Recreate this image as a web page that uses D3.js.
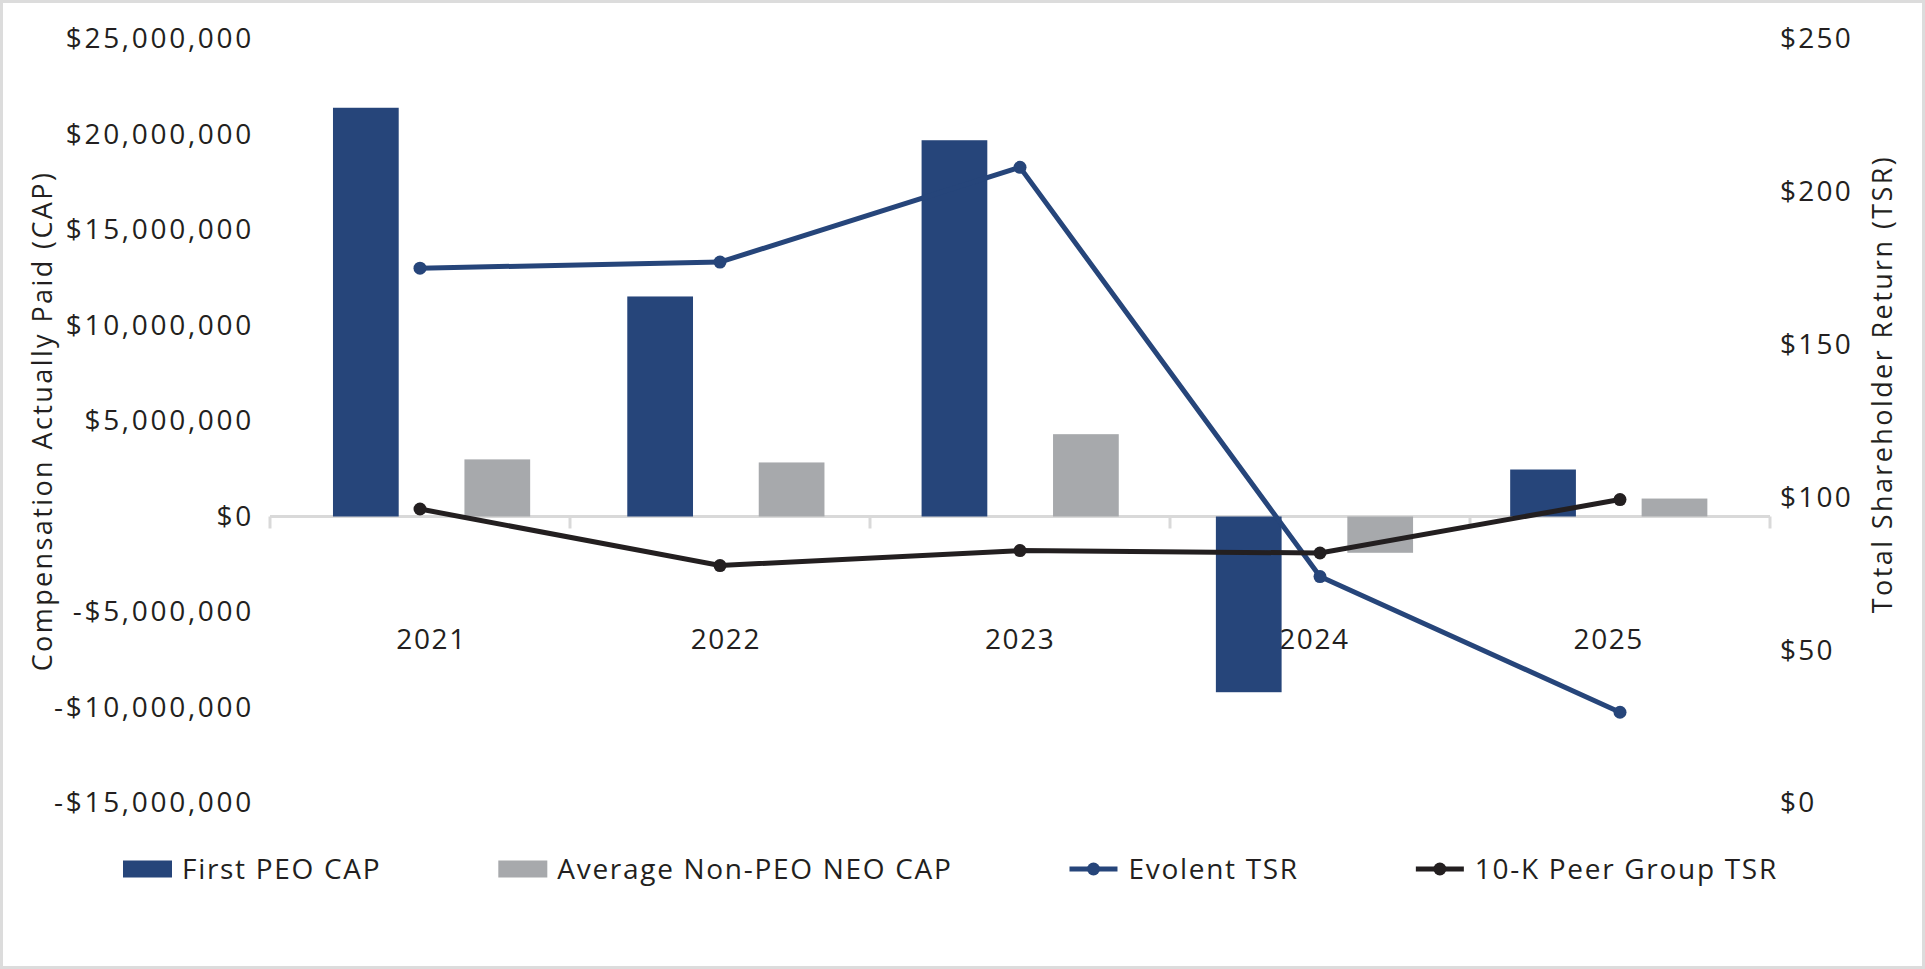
<!DOCTYPE html>
<html>
<head>
<meta charset="utf-8">
<script src="https://cdn.jsdelivr.net/npm/d3@7"></script>
<style>
  body { margin: 0; background: #fff; overflow: hidden; }
  text { font-family: "Open Sans", sans-serif; fill: #231f20; }
</style>
</head>
<body>
<svg width="1925" height="969"></svg>
<script>
const categories = ["2021", "2022", "2023", "2024", "2025"];
const firstPeoCap = [21400000, 11520000, 19700000, -9200000, 2460000];
const avgNeoCap = [2990000, 2830000, 4310000, -1900000, 940000];
const evolentTsr = [175.0, 177.0, 208.0, 74.1, 29.7];
const peerTsr = [96.2, 77.7, 82.6, 81.8, 99.3];
const capTicks = [-15000000, -10000000, -5000000, 0, 5000000, 10000000, 15000000, 20000000, 25000000];
const tsrTicks = [0, 50, 100, 150, 200, 250];

const blue = "#26457a";
const gray = "#a7a9ac";
const dark = "#231f20";
const rule = "#d9d9d9";

const svg = d3.select("svg");
const width = +svg.attr("width");
const height = +svg.attr("height");

// frame
svg.append("rect")
  .attr("x", 1.5).attr("y", 1.5)
  .attr("width", width - 3).attr("height", height - 3)
  .attr("fill", "none")
  .attr("stroke", "#dcdcdc")
  .attr("stroke-width", 3);

const plot = { left: 270, right: 1770, top: 39, bottom: 803 };

// category slots (separators + line points)
const x = d3.scaleBand()
  .domain(categories)
  .range([plot.left, plot.right]);

// bar groups sit on a slightly tighter step than the slots
const xBar = d3.scaleBand()
  .domain(categories)
  .range([plot.left, plot.left + 1471.5]);

const bars = d3.scaleBand()
  .domain(["peo", "neo"])
  .range([xBar.bandwidth() * 0.214, xBar.bandwidth() * 0.884])
  .paddingInner(0.5);

const yCap = d3.scaleLinear()
  .domain([-15000000, 25000000])
  .range([plot.bottom, plot.top]);

const yTsr = d3.scaleLinear()
  .domain([0, 250])
  .range([plot.bottom, plot.top]);

const fmtMoney = d => (d < 0 ? "-" : "") + "$" + d3.format(",")(Math.abs(d));

// left axis
const leftAxis = svg.append("g")
  .attr("transform", `translate(${plot.left},0)`)
  .call(d3.axisLeft(yCap).tickValues(capTicks).tickFormat(fmtMoney).tickSize(0).tickPadding(16));
leftAxis.select(".domain").remove();
leftAxis.selectAll("text")
  .style("font-family", "'Open Sans', sans-serif")
  .style("font-size", "28px")
  .style("letter-spacing", "2.7px")
  .attr("fill", dark);

// right axis
const rightAxis = svg.append("g")
  .attr("transform", `translate(${plot.right},0)`)
  .call(d3.axisRight(yTsr).tickValues(tsrTicks).tickFormat(d => "$" + d).tickSize(0).tickPadding(10));
rightAxis.select(".domain").remove();
rightAxis.selectAll("text")
  .style("font-family", "'Open Sans', sans-serif")
  .style("font-size", "28px")
  .style("letter-spacing", "2.2px")
  .attr("fill", dark);

// category axis at zero
const zeroY = yCap(0);
svg.append("line")
  .attr("x1", plot.left).attr("x2", plot.right)
  .attr("y1", zeroY).attr("y2", zeroY)
  .attr("stroke", rule)
  .attr("stroke-width", 3);

const bounds = categories.map(c => x(c)).concat([x(categories[categories.length - 1]) + x.bandwidth()]);
svg.selectAll(".sep")
  .data(bounds)
  .enter()
  .append("line")
  .attr("class", "sep")
  .attr("x1", d => d).attr("x2", d => d)
  .attr("y1", zeroY).attr("y2", zeroY + 12)
  .attr("stroke", rule)
  .attr("stroke-width", 3);

// year labels, centred under each bar pair
const groupMid = c => xBar(c) + (bars("peo") + bars("neo") + bars.bandwidth()) / 2;
svg.selectAll(".year")
  .data(categories)
  .enter()
  .append("text")
  .attr("class", "year")
  .attr("x", groupMid)
  .attr("y", 649)
  .attr("text-anchor", "middle")
  .style("font-size", "28px")
  .style("letter-spacing", "1.6px")
  .text(d => d);

// bars
const barRows = categories.map((c, i) => ({ cat: c, peo: firstPeoCap[i], neo: avgNeoCap[i] }));

svg.selectAll(".peo-bar")
  .data(barRows)
  .enter()
  .append("rect")
  .attr("class", "peo-bar")
  .attr("x", d => xBar(d.cat) + bars("peo"))
  .attr("width", bars.bandwidth())
  .attr("y", d => yCap(Math.max(0, d.peo)))
  .attr("height", d => Math.abs(yCap(d.peo) - yCap(0)))
  .attr("fill", blue);

svg.selectAll(".neo-bar")
  .data(barRows)
  .enter()
  .append("rect")
  .attr("class", "neo-bar")
  .attr("x", d => xBar(d.cat) + bars("neo"))
  .attr("width", bars.bandwidth())
  .attr("y", d => yCap(Math.max(0, d.neo)))
  .attr("height", d => Math.abs(yCap(d.neo) - yCap(0)))
  .attr("fill", gray);

// lines
const cx = c => x(c) + x.bandwidth() / 2;

function drawLine(values, color, cls) {
  const pts = categories.map((c, i) => ({ cat: c, v: values[i] }));
  const line = d3.line()
    .x(d => cx(d.cat))
    .y(d => yTsr(d.v));
  svg.append("path")
    .datum(pts)
    .attr("d", line)
    .attr("fill", "none")
    .attr("stroke", color)
    .attr("stroke-width", 5);
  svg.selectAll("." + cls)
    .data(pts)
    .enter()
    .append("circle")
    .attr("class", cls)
    .attr("cx", d => cx(d.cat))
    .attr("cy", d => yTsr(d.v))
    .attr("r", 6.5)
    .attr("fill", color);
}

drawLine(evolentTsr, blue, "evolent-pt");
drawLine(peerTsr, dark, "peer-pt");

// axis titles
svg.append("text")
  .attr("transform", `translate(52,421) rotate(-90)`)
  .attr("text-anchor", "middle")
  .style("font-size", "27px")
  .style("letter-spacing", "2.4px")
  .text("Compensation Actually Paid (CAP)");

svg.append("text")
  .attr("transform", `translate(1892,384) rotate(-90)`)
  .attr("text-anchor", "middle")
  .style("font-size", "27px")
  .style("letter-spacing", "2.4px")
  .text("Total Shareholder Return (TSR)");

// legend
const legendItems = [
  { label: "First PEO CAP", type: "bar", color: blue },
  { label: "Average Non-PEO NEO CAP", type: "bar", color: gray },
  { label: "Evolent TSR", type: "line", color: blue },
  { label: "10-K Peer Group TSR", type: "line", color: dark }
];

const legendY = 869;
let lx = 123;
legendItems.forEach(item => {
  const g = svg.append("g").attr("transform", `translate(${lx},${legendY})`);
  if (item.type === "bar") {
    g.append("rect")
      .attr("x", 0).attr("y", -8.5)
      .attr("width", 49).attr("height", 17)
      .attr("fill", item.color);
  } else {
    g.append("line")
      .attr("x1", 0).attr("x2", 48)
      .attr("y1", 0).attr("y2", 0)
      .attr("stroke", item.color)
      .attr("stroke-width", 5);
    g.append("circle")
      .attr("cx", 24).attr("cy", 0).attr("r", 6.5)
      .attr("fill", item.color);
  }
  const t = g.append("text")
    .attr("x", 59)
    .attr("dy", "0.36em")
    .style("font-size", "28px")
    .style("letter-spacing", "1.7px")
    .text(item.label);
  lx += 59 + t.node().getComputedTextLength() + 117;
});
</script>
</body>
</html>
